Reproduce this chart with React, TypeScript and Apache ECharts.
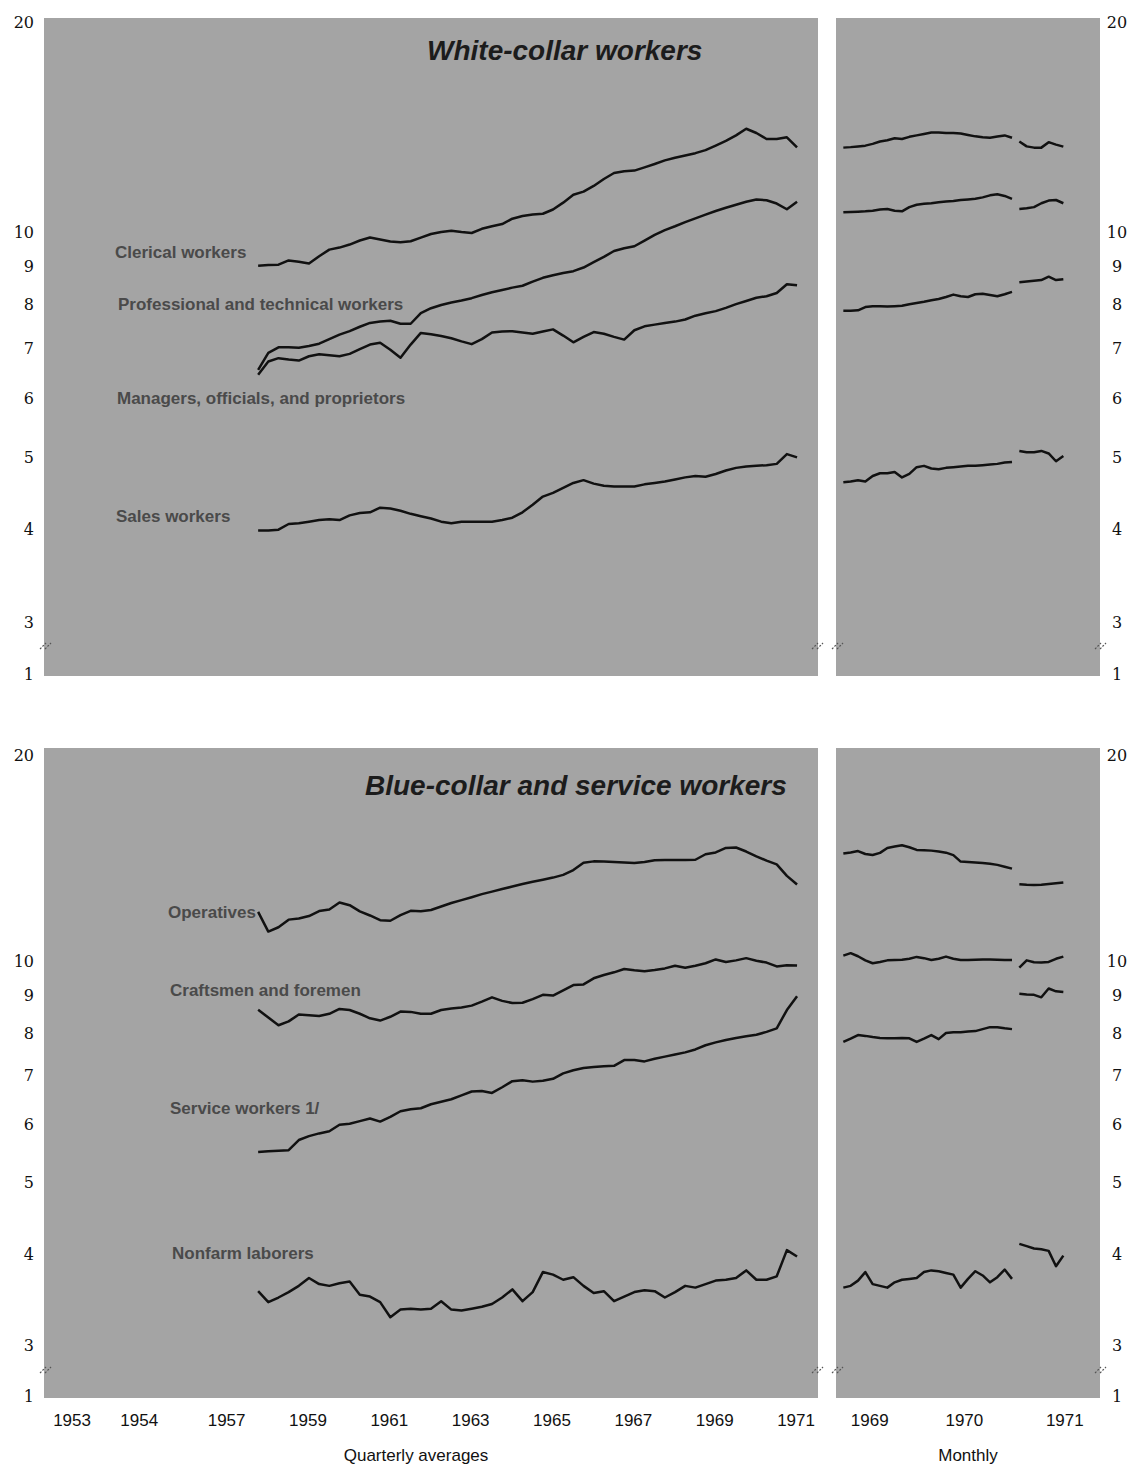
import React, { useEffect, useRef } from "react";
import * as echarts from "echarts";

// ---------- axis / tick data ----------
const QUARTER_START_YEAR = 1958; // first quarterly point = 1958 Q1
const quarterTickPos = [1953.55, 1955.2, 1957.35, 1959.35, 1961.35, 1963.35, 1965.35, 1967.35, 1969.35, 1971.35];
const quarterTickLabels = ["1953", "1954", "1957", "1959", "1961", "1963", "1965", "1967", "1969", "1971"];
// monthly axis: 0 = January 1969
const monthTickPos = [3.6, 16.5, 30.2];
const monthTickLabels = ["1969", "1970", "1971"];
const yTickValues = [1, 3, 4, 5, 6, 7, 8, 9, 10, 20];

// ---------- quarterly averages (millions), 1958 Q1 - 1971 Q2 ----------
const clericalQ = [9.03, 9.05, 9.06, 9.18, 9.14, 9.09, 9.3, 9.49, 9.55, 9.64, 9.76, 9.85, 9.79, 9.73, 9.71, 9.74, 9.85, 9.96, 10.02, 10.06, 10.02, 9.99, 10.12, 10.2, 10.27, 10.44, 10.53, 10.58, 10.6, 10.74, 10.97, 11.24, 11.35, 11.55, 11.8, 12.02, 12.09, 12.11, 12.23, 12.36, 12.5, 12.6, 12.69, 12.78, 12.9, 13.08, 13.27, 13.5, 13.78, 13.6, 13.35, 13.35, 13.42, 13.01];
const professionalQ = [6.55, 6.9, 7.02, 7.02, 7.01, 7.05, 7.1, 7.2, 7.3, 7.38, 7.48, 7.57, 7.6, 7.62, 7.55, 7.55, 7.8, 7.92, 8.0, 8.06, 8.11, 8.17, 8.25, 8.32, 8.38, 8.44, 8.49, 8.6, 8.7, 8.77, 8.83, 8.88, 8.98, 9.13, 9.28, 9.45, 9.53, 9.59, 9.76, 9.93, 10.08, 10.2, 10.33, 10.45, 10.57, 10.69, 10.8, 10.9, 11.0, 11.08, 11.05, 10.94, 10.75, 11.0];
const managersQ = [6.45, 6.72, 6.79, 6.76, 6.74, 6.83, 6.87, 6.85, 6.83, 6.88, 6.98, 7.08, 7.12, 6.97, 6.8, 7.08, 7.34, 7.31, 7.27, 7.22, 7.15, 7.09, 7.2, 7.35, 7.37, 7.38, 7.35, 7.32, 7.37, 7.42, 7.28, 7.13, 7.25, 7.36, 7.32, 7.25, 7.19, 7.4, 7.49, 7.53, 7.57, 7.6, 7.65, 7.74, 7.8, 7.85, 7.93, 8.02, 8.1, 8.18, 8.22, 8.3, 8.53, 8.5];
const salesQ = [3.99, 3.99, 4.0, 4.07, 4.08, 4.1, 4.12, 4.13, 4.12, 4.18, 4.21, 4.22, 4.28, 4.27, 4.24, 4.2, 4.17, 4.14, 4.1, 4.08, 4.1, 4.1, 4.1, 4.1, 4.12, 4.15, 4.22, 4.32, 4.43, 4.48, 4.55, 4.62, 4.66, 4.61, 4.58, 4.57, 4.57, 4.57, 4.6, 4.62, 4.64, 4.67, 4.7, 4.72, 4.71, 4.75, 4.8, 4.84, 4.86, 4.87, 4.88, 4.9, 5.05, 5.0];
const operativesQ = [11.7, 11.0, 11.15, 11.42, 11.46, 11.55, 11.73, 11.79, 12.05, 11.95, 11.72, 11.57, 11.4, 11.38, 11.58, 11.74, 11.72, 11.77, 11.9, 12.03, 12.14, 12.25, 12.37, 12.47, 12.57, 12.67, 12.77, 12.86, 12.94, 13.03, 13.14, 13.34, 13.65, 13.71, 13.7, 13.68, 13.66, 13.64, 13.68, 13.76, 13.77, 13.77, 13.77, 13.78, 14.02, 14.1, 14.3, 14.32, 14.14, 13.93, 13.74, 13.58, 13.1, 12.75];
const craftsmenQ = [8.61, 8.4, 8.2, 8.3, 8.48, 8.46, 8.44, 8.5, 8.63, 8.6, 8.5, 8.38, 8.32, 8.42, 8.56, 8.55, 8.5, 8.5, 8.6, 8.64, 8.67, 8.72, 8.83, 8.95, 8.85, 8.79, 8.8, 8.9, 9.02, 9.0, 9.15, 9.3, 9.32, 9.5, 9.6, 9.68, 9.78, 9.74, 9.71, 9.75, 9.8, 9.88, 9.82, 9.88, 9.96, 10.08, 10.0, 10.05, 10.12, 10.04, 9.98, 9.86, 9.9, 9.89];
const serviceQ = [5.51, 5.52, 5.53, 5.54, 5.72, 5.79, 5.84, 5.88, 6.0, 6.02, 6.07, 6.12, 6.06, 6.15, 6.26, 6.3, 6.32, 6.4, 6.45, 6.5, 6.58, 6.66, 6.67, 6.63, 6.75, 6.88, 6.9, 6.87, 6.89, 6.93, 7.05, 7.12, 7.17, 7.19, 7.21, 7.22, 7.35, 7.35, 7.32, 7.38, 7.43, 7.48, 7.53, 7.6, 7.7, 7.77, 7.83, 7.88, 7.92, 7.96, 8.03, 8.12, 8.6, 8.98];
const laborersQ = [3.56, 3.44, 3.49, 3.55, 3.62, 3.71, 3.64, 3.62, 3.65, 3.67, 3.52, 3.5, 3.44, 3.28, 3.36, 3.37, 3.36, 3.37, 3.45, 3.36, 3.35, 3.37, 3.39, 3.42, 3.49, 3.58, 3.45, 3.55, 3.78, 3.75, 3.69, 3.72, 3.62, 3.54, 3.56, 3.45, 3.5, 3.55, 3.57, 3.56, 3.49, 3.55, 3.62, 3.6, 3.64, 3.68, 3.69, 3.71, 3.8, 3.69, 3.69, 3.73, 4.05, 3.97];

// ---------- monthly (millions): Jan 1969 - Dec 1970, then Jan 1971 - Jul 1971 ----------
const clericalM1 = [13.0, 13.02, 13.05, 13.08, 13.15, 13.25, 13.3, 13.38, 13.35, 13.44, 13.5, 13.56, 13.62, 13.62, 13.6, 13.6, 13.58, 13.52, 13.46, 13.42, 13.4, 13.45, 13.5, 13.4];
const clericalM2 = [13.25, 13.05, 13.0, 13.0, 13.22, 13.12, 13.04];
const professionalM1 = [10.65, 10.66, 10.67, 10.68, 10.7, 10.74, 10.76, 10.7, 10.68, 10.82, 10.9, 10.93, 10.95, 10.98, 11.01, 11.03, 11.06, 11.08, 11.1, 11.15, 11.22, 11.26, 11.2, 11.1];
const professionalM2 = [10.76, 10.78, 10.82, 10.95, 11.04, 11.06, 10.95];
const managersM1 = [7.86, 7.86, 7.87, 7.95, 7.97, 7.97, 7.96, 7.97, 7.98, 8.02, 8.05, 8.08, 8.12, 8.15, 8.2, 8.26, 8.22, 8.2, 8.27, 8.28, 8.25, 8.22, 8.27, 8.33];
const managersM2 = [8.58, 8.6, 8.62, 8.64, 8.73, 8.64, 8.66];
const salesM1 = [4.63, 4.64, 4.66, 4.64, 4.72, 4.76, 4.76, 4.78, 4.7, 4.75, 4.85, 4.87, 4.83, 4.82, 4.84, 4.85, 4.86, 4.87, 4.87, 4.88, 4.89, 4.9, 4.92, 4.93];
const salesM2 = [5.1, 5.08, 5.08, 5.1, 5.06, 4.94, 5.02];
const operativesM1 = [14.05, 14.1, 14.16, 14.03, 13.99, 14.08, 14.3, 14.36, 14.42, 14.33, 14.21, 14.2, 14.18, 14.14, 14.09, 13.98, 13.7, 13.68, 13.66, 13.64, 13.61, 13.56, 13.48, 13.4];
const operativesM2 = [12.76, 12.74, 12.73, 12.74, 12.77, 12.8, 12.83];
const craftsmenM1 = [10.2, 10.28, 10.18, 10.05, 9.96, 10.0, 10.05, 10.06, 10.07, 10.1, 10.16, 10.12, 10.06, 10.1, 10.17, 10.1, 10.06, 10.06, 10.07, 10.08, 10.08, 10.07, 10.06, 10.06];
const craftsmenM2 = [9.82, 10.05, 9.99, 9.98, 10.0, 10.1, 10.17];
const serviceM1 = [7.78, 7.86, 7.95, 7.93, 7.9, 7.88, 7.87, 7.87, 7.88, 7.87, 7.78, 7.86, 7.95, 7.85, 8.0, 8.02, 8.02, 8.04, 8.05, 8.1, 8.15, 8.15, 8.12, 8.1];
const serviceM2 = [9.05, 9.03, 9.02, 8.95, 9.2, 9.12, 9.1];
const laborersM1 = [3.6, 3.62, 3.68, 3.78, 3.64, 3.62, 3.6, 3.66, 3.69, 3.7, 3.71, 3.78, 3.8, 3.79, 3.77, 3.75, 3.6, 3.7, 3.79, 3.74, 3.66, 3.72, 3.81, 3.7];
const laborersM2 = [4.13, 4.1, 4.07, 4.06, 4.04, 3.85, 3.98];

// ---------- texts ----------
const panelTitles = ["White-collar workers", "Blue-collar and service workers"];
const topLabels = ["Clerical workers", "Professional and technical workers", "Managers, officials, and proprietors", "Sales workers"];
const bottomLabels = ["Operatives", "Craftsmen and foremen", "Service workers 1/", "Nonfarm laborers"];

const FONT_SERIF = "'DejaVu Serif', 'Liberation Serif', serif";
const FONT_AXIS = "'Liberation Sans', Arial, sans-serif";
const FONT_SANS = "'Liberation Sans', Arial, sans-serif";
const BG = "#a4a4a4";
const INK = "#111111";
const LABEL_INK = "#4a4a4a";

function buildOption(): any {
  const qPairs = (arr: number[]) => arr.map((v, i) => [QUARTER_START_YEAR + (i + 0.5) / 4, v]);
  const mPairs = (arr: number[], start: number) => arr.map((v, i) => [start + i, v]);
  const line = (name: string, data: number[][], axis: number) => ({
    name,
    type: "line",
    data,
    xAxisIndex: axis,
    yAxisIndex: axis,
    showSymbol: false,
    symbol: "none",
    silent: true,
    z: 3,
    lineStyle: { color: INK, width: 2.5, join: "round" },
  });

  const yAxis = (grid: number, side: "left" | "right") => ({
    gridIndex: grid,
    type: "log",
    logBase: 10,
    min: 1,
    max: 20,
    position: side,
    breaks: [{ start: 1.03, end: 2.75, gap: "2%" }],
    breakArea: {
      show: true,
      itemStyle: { color: "rgba(0,0,0,0)", borderColor: "rgba(0,0,0,0)", borderWidth: 0 },
    },
    axisLine: { show: false },
    axisTick: { show: false },
    splitLine: { show: false },
    axisLabel: {
      customValues: yTickValues,
      formatter: (v: number) => {
        const r = Math.round(v);
        return r === 20 ? "{top|20}" : String(r);
      },
      rich: { top: { padding: [28, 0, 0, 0], fontFamily: FONT_SERIF, fontSize: 16, color: INK } },
      fontFamily: FONT_SERIF,
      fontSize: 16,
      color: INK,
      margin: side === "left" ? 10 : 17,
      align: side === "left" ? "right" : "center",
    },
  });

  const hiddenX = (grid: number, min: number, max: number) => ({
    gridIndex: grid,
    type: "value",
    min,
    max,
    axisLine: { show: false },
    axisTick: { show: false },
    splitLine: { show: false },
    axisLabel: { show: false },
  });

  const labelledX = (grid: number, min: number, max: number, pos: number[], labels: string[], name: string, namePad: number[]) => ({
    gridIndex: grid,
    type: "value",
    min,
    max,
    axisLine: { show: false },
    axisTick: { show: false },
    splitLine: { show: false },
    axisLabel: {
      customValues: pos,
      formatter: (v: number) => {
        const idx = pos.findIndex((p) => Math.abs(p - v) < 1e-6);
        return idx >= 0 ? labels[idx] : "";
      },
      fontFamily: FONT_AXIS,
      fontSize: 17,
      color: INK,
      margin: 16,
    },
    name,
    nameLocation: "middle",
    nameGap: 51,
    nameTextStyle: { fontFamily: FONT_AXIS, fontSize: 17, color: INK, padding: namePad },
  });

  const rect = (x: number, y: number, w: number, h: number) => ({
    type: "rect",
    shape: { x, y, width: w, height: h },
    style: { fill: BG },
    z: -10,
    silent: true,
  });

  const label = (text: string, x: number, y: number) => ({
    type: "text",
    x,
    y,
    z: 10,
    silent: true,
    style: {
      text,
      fill: LABEL_INK,
      font: `bold 17px ${FONT_SANS}`,
      verticalAlign: "middle",
      align: "left",
    },
  });

  const breakMark = (cx: number, cy: number) => ({
    type: "group",
    z: 10,
    silent: true,
    children: [
      { type: "line", shape: { x1: cx - 6, y1: cy + 3, x2: cx, y2: cy - 3 }, style: { stroke: "#555", lineWidth: 1.2, lineDash: [2, 1.5] } },
      { type: "line", shape: { x1: cx - 1, y1: cy + 3, x2: cx + 5, y2: cy - 3 }, style: { stroke: "#555", lineWidth: 1.2, lineDash: [2, 1.5] } },
    ],
  });

  const QMIN = 1952.86;
  const QMAX = 1971.89;
  const MMIN = -1;
  const MMAX = 35;

  return {
    animation: false,
    backgroundColor: "#ffffff",
    title: [
      {
        text: panelTitles[0],
        left: 427,
        top: 36,
        padding: 0,
        textStyle: { fontFamily: FONT_SANS, fontSize: 28, fontWeight: "bold", fontStyle: "italic", color: "#1c1c1c" },
      },
      {
        text: panelTitles[1],
        left: 365,
        top: 771,
        padding: 0,
        textStyle: { fontFamily: FONT_SANS, fontSize: 28, fontWeight: "bold", fontStyle: "italic", color: "#1c1c1c" },
      },
    ],
    grid: [
      { left: 44, top: 8, width: 774, height: 666, outerBoundsMode: "none" },
      { left: 836, top: 8, width: 264, height: 666, outerBoundsMode: "none" },
      { left: 44, top: 741, width: 774, height: 655, outerBoundsMode: "none" },
      { left: 836, top: 741, width: 264, height: 655, outerBoundsMode: "none" },
    ],
    xAxis: [
      hiddenX(0, QMIN, QMAX),
      hiddenX(1, MMIN, MMAX),
      labelledX(2, QMIN, QMAX, quarterTickPos, quarterTickLabels, "Quarterly averages", [0, 30, 0, 0]),
      labelledX(3, MMIN, MMAX, monthTickPos, monthTickLabels, "Monthly", [0, 0, 0, 0]),
    ],
    yAxis: [yAxis(0, "left"), yAxis(1, "right"), yAxis(2, "left"), yAxis(3, "right")],
    graphic: [
      rect(44, 18, 774, 658),
      rect(836, 18, 264, 658),
      rect(44, 748, 774, 650),
      rect(836, 748, 264, 650),
      label(topLabels[0], 115, 252),
      label(topLabels[1], 118, 304),
      label(topLabels[2], 117, 398),
      label(topLabels[3], 116, 516),
      label(bottomLabels[0], 168, 912),
      label(bottomLabels[1], 170, 990),
      label(bottomLabels[2], 170, 1108),
      label(bottomLabels[3], 172, 1253),
      breakMark(46, 646),
      breakMark(818, 646),
      breakMark(838, 646),
      breakMark(1101, 646),
      breakMark(46, 1370),
      breakMark(818, 1370),
      breakMark(838, 1370),
      breakMark(1101, 1370),
    ],
    series: [
      line("Clerical workers", qPairs(clericalQ), 0),
      line("Professional and technical workers", qPairs(professionalQ), 0),
      line("Managers, officials, and proprietors", qPairs(managersQ), 0),
      line("Sales workers", qPairs(salesQ), 0),
      line("Clerical workers (monthly)", mPairs(clericalM1, 0), 1),
      line("Clerical workers (monthly 1971)", mPairs(clericalM2, 24), 1),
      line("Professional and technical workers (monthly)", mPairs(professionalM1, 0), 1),
      line("Professional and technical workers (monthly 1971)", mPairs(professionalM2, 24), 1),
      line("Managers, officials, and proprietors (monthly)", mPairs(managersM1, 0), 1),
      line("Managers, officials, and proprietors (monthly 1971)", mPairs(managersM2, 24), 1),
      line("Sales workers (monthly)", mPairs(salesM1, 0), 1),
      line("Sales workers (monthly 1971)", mPairs(salesM2, 24), 1),
      line("Operatives", qPairs(operativesQ), 2),
      line("Craftsmen and foremen", qPairs(craftsmenQ), 2),
      line("Service workers", qPairs(serviceQ), 2),
      line("Nonfarm laborers", qPairs(laborersQ), 2),
      line("Operatives (monthly)", mPairs(operativesM1, 0), 3),
      line("Operatives (monthly 1971)", mPairs(operativesM2, 24), 3),
      line("Craftsmen and foremen (monthly)", mPairs(craftsmenM1, 0), 3),
      line("Craftsmen and foremen (monthly 1971)", mPairs(craftsmenM2, 24), 3),
      line("Service workers (monthly)", mPairs(serviceM1, 0), 3),
      line("Service workers (monthly 1971)", mPairs(serviceM2, 24), 3),
      line("Nonfarm laborers (monthly)", mPairs(laborersM1, 0), 3),
      line("Nonfarm laborers (monthly 1971)", mPairs(laborersM2, 24), 3),
    ],
  };
}

export default function App() {
  const ref = useRef<HTMLDivElement>(null);
  useEffect(() => {
    if (!ref.current) return;
    const chart = echarts.init(ref.current, undefined, { renderer: "svg" });
    chart.setOption(buildOption());
    return () => chart.dispose();
  }, []);
  return (
    <div
      ref={ref}
      style={{ position: "absolute", left: 0, top: 0, width: 1133, height: 1479, background: "#fff" }}
    />
  );
}
